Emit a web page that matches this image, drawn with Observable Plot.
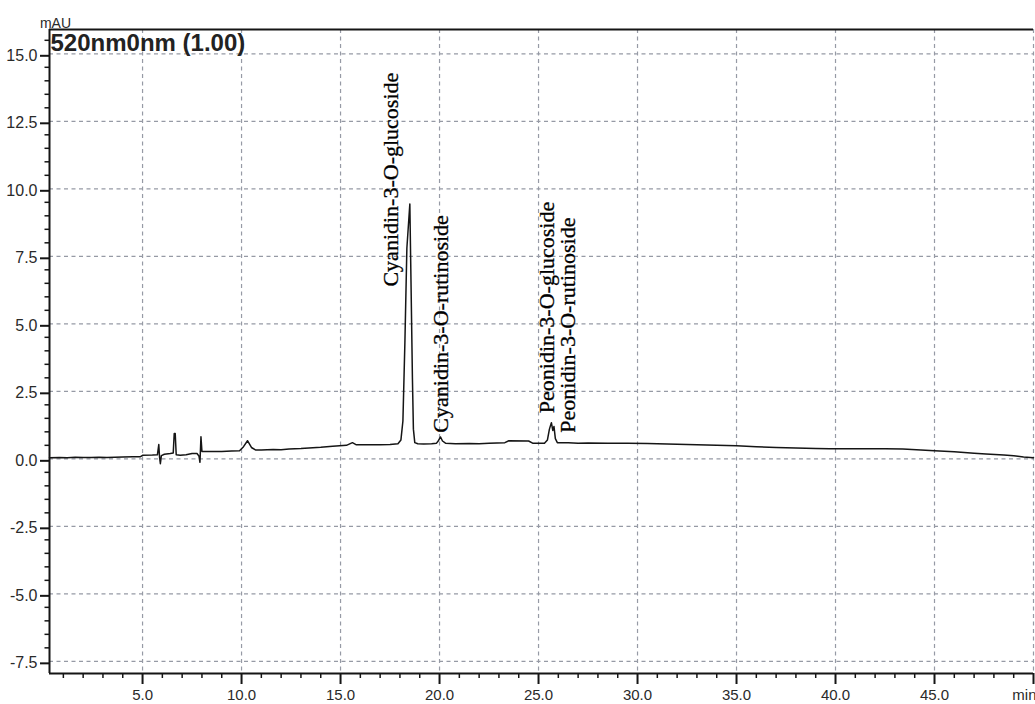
<!DOCTYPE html>
<html>
<head>
<meta charset="utf-8">
<script src="https://cdn.jsdelivr.net/npm/d3@7"></script>
<script src="https://cdn.jsdelivr.net/npm/@observablehq/plot@0.6"></script>
<style>
  html, body { margin: 0; padding: 0; background: #fff; }
  #chart { width: 1035px; height: 704px; overflow: hidden; }
</style>
</head>
<body>
<div id="chart"></div>
<script>
// Chromatogram trace, detector at 520 nm: retention time (min) and absorbance (mAU)
const traceTime = [
  0.3, 0.8, 1.2, 1.6, 2.0, 2.4, 2.8, 3.2, 3.6, 4.0, 4.5, 4.9,
  5.0, 5.5, 5.75, 5.82, 5.86, 5.9, 5.95, 6.1, 6.4, 6.55, 6.6, 6.65, 6.7, 6.9,
  7.2, 7.5, 7.75, 7.85, 7.9, 7.95, 8.0, 8.5, 9.0, 9.5, 9.9,
  10.1, 10.3, 10.5, 10.7, 11.0, 11.6, 12.0, 12.4, 13.0, 13.6, 14.0, 14.6,
  15.3, 15.6, 15.8, 16.5, 17.0, 17.5, 17.9,
  18.05, 18.15, 18.25, 18.35, 18.5, 18.57, 18.63, 18.68, 18.75, 18.9,
  19.2, 19.6, 19.85, 19.95, 20.05, 20.15, 20.3, 20.8, 21.5, 22.0, 22.5, 23.3,
  23.5, 24.5, 24.7, 25.3, 25.45, 25.55, 25.65, 25.72, 25.78, 25.85, 25.95,
  26.5, 27.0, 27.5, 28.5, 29.5, 30.5, 31.5, 32.0, 33.0, 34.0, 35.0, 36.0,
  37.0, 38.0, 39.0, 39.7, 41.0, 42.5, 43.4, 45.0, 46.0, 47.0, 47.6, 48.5,
  49.0, 49.5, 50.0
];
const traceMAU = [
  0.04, 0.05, 0.04, 0.06, 0.05, 0.05, 0.06, 0.05, 0.06, 0.07, 0.08, 0.08,
  0.13, 0.14, 0.15, 0.53, 0.05, -0.18, 0.12, 0.17, 0.2, 0.22, 0.94, 0.94, 0.15, 0.13,
  0.15, 0.2, 0.2, 0.1, -0.13, 0.82, 0.27, 0.27, 0.27, 0.29, 0.3,
  0.45, 0.67, 0.42, 0.33, 0.33, 0.35, 0.34, 0.36, 0.38, 0.41, 0.43, 0.47,
  0.5, 0.6, 0.52, 0.52, 0.52, 0.53, 0.56,
  0.7, 1.4, 4.3, 7.8, 9.44, 6.0, 3.0, 1.1, 0.6, 0.56,
  0.55, 0.56, 0.58, 0.68, 0.81, 0.66, 0.58, 0.56, 0.57, 0.56, 0.58, 0.6,
  0.67, 0.66, 0.58, 0.58, 0.7, 1.1, 1.34, 1.05, 1.2, 0.75, 0.6,
  0.6, 0.58, 0.59, 0.58, 0.58, 0.57, 0.55, 0.54, 0.52, 0.5, 0.48, 0.45,
  0.42, 0.4, 0.38, 0.37, 0.37, 0.37, 0.36, 0.3, 0.26, 0.21, 0.18, 0.14,
  0.11, 0.07, 0.04
];

// Peak identifications and where their rotated labels start
const peakNames = [
  "Cyanidin-3-O-glucoside",
  "Cyanidin-3-O-rutinoside",
  "Peonidin-3-O-glucoside",
  "Peonidin-3-O-rutinoside"
];
const labelTime = [17.54, 20.07, 25.42, 26.49];
const labelMAU = [6.38, 0.97, 1.69, 0.97];

// Axis ticks
const xMajorTicks = [5, 10, 15, 20, 25, 30, 35, 40, 45, 50];
const xTickLabels = ["5.0", "10.0", "15.0", "20.0", "25.0", "30.0", "35.0", "40.0", "45.0", "min"];
const yMajorTicks = [-7.5, -5, -2.5, 0, 2.5, 5, 7.5, 10, 12.5, 15];
const yTickLabels = ["-7.5", "-5.0", "-2.5", "0.0", "2.5", "5.0", "7.5", "10.0", "12.5", "15.0"];
const xMinorTicks = d3.range(1, 50, 1).filter(t => t % 5 !== 0);
const yMinorTicks = d3.range(-7.5, 15.51, 0.5).filter(t => Math.abs(t / 2.5 - Math.round(t / 2.5)) > 1e-6);

const xDomain = [0.3, 50];
const yDomain = [-7.95, 15.9];
const signalTitle = "520nm0nm (1.00)";
const unitLabel = "mAU";

const trace = traceTime.map((t, i) => ({time: t, mau: traceMAU[i]}));
const peaks = peakNames.map((name, i) => ({name, time: labelTime[i], mau: labelMAU[i]}));

// the last major tick carries the unit instead of a number; it is set flush right
const lastTick = xMajorTicks[xMajorTicks.length - 1];
const xNumbered = xMajorTicks.slice(0, -1);

const tickFont = "'Liberation Sans', Arial, sans-serif";
const ink = "#151515";
const gridColor = "#969aa5";

const chart = Plot.plot({
  width: 1035,
  height: 704,
  marginLeft: 49,
  marginRight: 2,
  marginTop: 29,
  marginBottom: 31,
  style: {background: "#fff", color: "#2a2a2a", fontFamily: tickFont},
  x: {domain: xDomain},
  y: {domain: yDomain},
  marks: [
    // dashed grid at the major ticks
    Plot.gridX({ticks: xMajorTicks, stroke: gridColor, strokeOpacity: 1, strokeWidth: 1.2, strokeDasharray: "4,3.5"}),
    Plot.gridY({ticks: yMajorTicks, stroke: gridColor, strokeOpacity: 1, strokeWidth: 1.2, strokeDasharray: "4,3.5"}),

    // minor ticks
    Plot.axisX({ticks: xMinorTicks, tickSize: 5, text: null, label: null, stroke: ink, strokeWidth: 1.5}),
    Plot.axisY({ticks: yMinorTicks, tickSize: 4.5, text: null, label: null, stroke: ink, strokeWidth: 1.5}),

    // major ticks with labels
    Plot.axisX({ticks: xMajorTicks, tickSize: 11, text: null, label: null, stroke: ink, strokeWidth: 2}),
    Plot.axisX({
      ticks: xNumbered, tickSize: 11, tickPadding: 5, label: null, stroke: null,
      tickFormat: d => xTickLabels[xMajorTicks.indexOf(d)], fontSize: 15
    }),
    Plot.text([xTickLabels[xMajorTicks.length - 1]], {
      x: () => lastTick, frameAnchor: "bottom", textAnchor: "end", lineAnchor: "top",
      dx: 3, dy: 16, fontSize: 15, fill: "#2a2a2a"
    }),
    Plot.axisY({
      ticks: yMajorTicks, tickSize: 9, tickPadding: 3, label: null, stroke: ink, strokeWidth: 2,
      tickFormat: d => yTickLabels[yMajorTicks.indexOf(d)], fontSize: 16, dy: 2
    }),

    // axis lines and top border
    Plot.ruleY([yDomain[0]], {stroke: ink, strokeWidth: 2}),
    Plot.ruleY([yDomain[1]], {stroke: ink, strokeWidth: 2}),
    Plot.ruleX([xDomain[0]], {stroke: ink, strokeWidth: 2}),

    // the chromatogram
    Plot.line(trace, {x: "time", y: "mau", stroke: ink, strokeWidth: 1.5}),

    // peak labels
    Plot.text(peaks, {
      x: "time", y: "mau", text: "name", rotate: -90, textAnchor: "start",
      fontFamily: "'Liberation Serif', 'Times New Roman', serif", fontSize: 22, fill: "#000",
      stroke: "#000", strokeWidth: 0.3
    }),

    // signal name and unit
    Plot.text([signalTitle], {
      frameAnchor: "top-left", textAnchor: "start", lineAnchor: "top", dx: 1, dy: 4,
      fontFamily: "'Liberation Sans', Arial, sans-serif", fontSize: 24, fontWeight: "bold", fill: "#222"
    }),
    Plot.text([unitLabel], {
      frameAnchor: "top-left", textAnchor: "middle", lineAnchor: "bottom", dx: 6, dy: -2,
      fontSize: 14, fill: "#2a2a2a"
    })
  ]
});

document.getElementById("chart").appendChild(chart);
</script>
</body>
</html>
